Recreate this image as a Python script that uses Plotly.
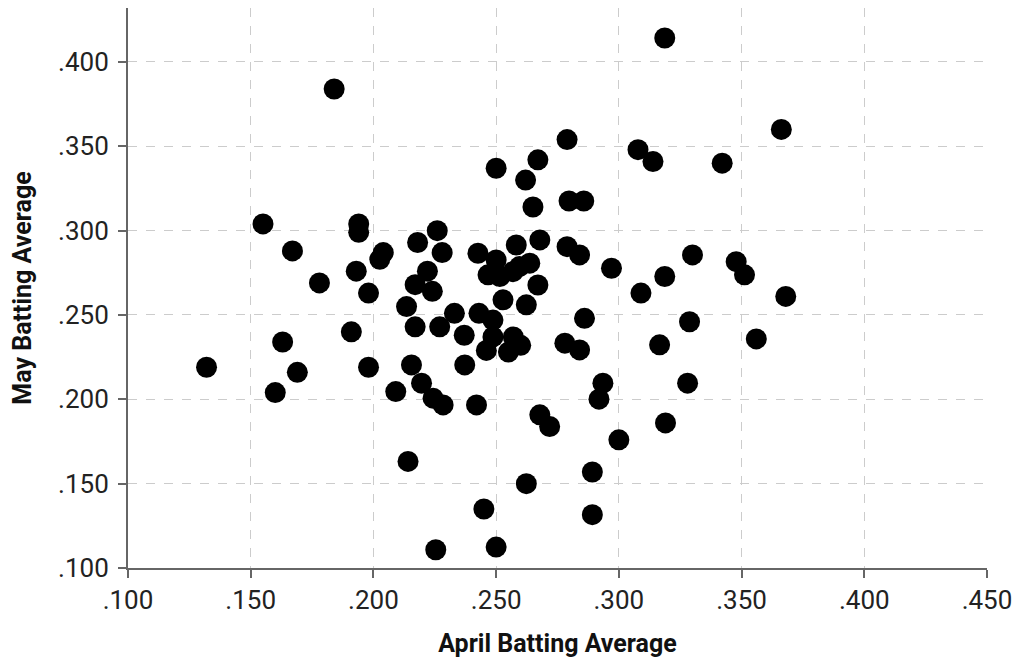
import plotly.graph_objects as go

april = [0.132, 0.184, 0.155, 0.167, 0.178, 0.160, 0.163, 0.169, 0.193, 0.194,
         0.194, 0.191, 0.198, 0.198, 0.204, 0.2026, 0.218, 0.226, 0.228, 0.222,
         0.217, 0.224, 0.2135, 0.217, 0.227, 0.233, 0.237, 0.243, 0.2487, 0.2487,
         0.246, 0.255, 0.257, 0.260, 0.2426, 0.250, 0.2467, 0.2515, 0.2569, 0.2582,
         0.2637, 0.2678, 0.267, 0.2528, 0.2623, 0.265, 0.262, 0.267, 0.250, 0.2789,
         0.2797, 0.2857, 0.3078, 0.3139, 0.3187, 0.3662, 0.3421, 0.2789, 0.284, 0.297,
         0.3187, 0.309, 0.286, 0.330, 0.3478, 0.3512, 0.368, 0.3288, 0.356, 0.3166,
         0.328, 0.319, 0.278, 0.284, 0.2935, 0.2919, 0.2718, 0.2678, 0.300, 0.2892,
         0.2892, 0.2155, 0.2372, 0.2091, 0.2196, 0.2243, 0.2284, 0.242, 0.2141, 0.2623,
         0.245, 0.2254, 0.250, 0.2595]
may = [0.219, 0.384, 0.304, 0.288, 0.269, 0.204, 0.234, 0.216, 0.276, 0.304,
       0.299, 0.240, 0.263, 0.219, 0.287, 0.283, 0.293, 0.300, 0.287, 0.276,
       0.268, 0.264, 0.255, 0.243, 0.243, 0.251, 0.238, 0.251, 0.247, 0.237,
       0.229, 0.228, 0.237, 0.232, 0.2866, 0.2826, 0.2738, 0.2728, 0.2757, 0.2915,
       0.2807, 0.2945, 0.2678, 0.259, 0.256, 0.314, 0.330, 0.342, 0.337, 0.354,
       0.3176, 0.3176, 0.348, 0.341, 0.4142, 0.360, 0.340, 0.2905, 0.2856, 0.2777,
       0.2728, 0.263, 0.248, 0.2856, 0.2816, 0.2738, 0.261, 0.246, 0.2358, 0.2323,
       0.2096, 0.186, 0.2333, 0.2293, 0.2096, 0.2001, 0.1839, 0.1908, 0.176, 0.1569,
       0.1316, 0.2204, 0.2204, 0.2046, 0.2096, 0.2007, 0.1967, 0.1967, 0.1632, 0.150,
       0.135, 0.1108, 0.1124, 0.2787]

x_ticks = [0.100, 0.150, 0.200, 0.250, 0.300, 0.350, 0.400, 0.450]
x_labels = [".100", ".150", ".200", ".250", ".300", ".350", ".400", ".450"]
y_ticks = [0.100, 0.150, 0.200, 0.250, 0.300, 0.350, 0.400]
y_labels = [".100", ".150", ".200", ".250", ".300", ".350", ".400"]

fig = go.Figure()
fig.add_trace(go.Scatter(
    x=april, y=may, mode="markers",
    marker=dict(size=21, color="#000000", line=dict(width=0)),
    showlegend=False, hoverinfo="skip"))

axis_common = dict(
    showline=True, linecolor="#666666", linewidth=2,
    ticks="outside", ticklen=8, tickwidth=2, tickcolor="#666666",
    showgrid=True, gridcolor="#cccccc", gridwidth=1, griddash="dash",
    zeroline=False, automargin=False,
    tickfont=dict(family="Roboto, Arial, sans-serif", size=26, color="#222222"),
)

fig.update_layout(
    width=1020, height=665,
    margin=dict(l=120, r=41, t=0, b=105),
    paper_bgcolor="white", plot_bgcolor="white",
    xaxis=dict(range=[0.1, 0.45], tickvals=x_ticks, ticktext=x_labels,
               title=dict(text="<b>April Batting Average</b>", standoff=20,
                          font=dict(family="Roboto, Arial, sans-serif", size=25, color="#111111")),
               **axis_common),
    yaxis=dict(range=[0.1, 0.432], tickvals=y_ticks, ticktext=y_labels,
               ticklabelstandoff=4,
               title=dict(text="<b>May Batting Average</b>", standoff=22,
                          font=dict(family="Roboto, Arial, sans-serif", size=25, color="#111111")),
               **axis_common),
)

fig.write_html("out.html")
